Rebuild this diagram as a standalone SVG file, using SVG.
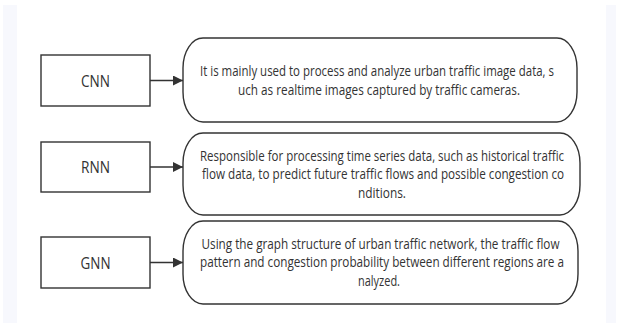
<svg xmlns="http://www.w3.org/2000/svg" width="619" height="325" viewBox="0 0 619 325">
  <defs>
    <marker id="arrow" viewBox="0 0 10 10" refX="10" refY="5" markerWidth="10" markerHeight="10" markerUnits="userSpaceOnUse" orient="auto">
      <path d="M0,0 L10,5 L0,10 Z" fill="#333"/>
    </marker>
  </defs>
  <style>
    .box { fill: #ffffff; stroke: #333333; stroke-width: 1.4; }
    .label { font-family: "Open Sans", "Noto Sans", sans-serif; font-size: 17px; fill: #333333; text-anchor: middle; }
    .desc { font-family: "Open Sans", "Noto Sans", sans-serif; font-size: 14.5px; fill: #333333; text-anchor: middle; }
    .conn { stroke: #333333; stroke-width: 1.6; fill: none; marker-end: url(#arrow); }
  </style>

  <!-- page background with pale side margins -->
  <rect x="0" y="0" width="619" height="325" fill="#ffffff"/>
  <rect x="3" y="5" width="613" height="318" fill="#f7f8fd"/>
  <rect x="17" y="0" width="589" height="325" fill="#ffffff"/>

  <!-- model nodes -->
  <g id="cnn">
    <rect class="box" x="41" y="55" width="109" height="51"/>
    <text class="label" x="95.5" y="86.5" textLength="29" lengthAdjust="spacingAndGlyphs">CNN</text>
  </g>
  <g id="rnn">
    <rect class="box" x="41" y="142" width="109" height="50"/>
    <text class="label" x="95.5" y="173" textLength="29" lengthAdjust="spacingAndGlyphs">RNN</text>
  </g>
  <g id="gnn">
    <rect class="box" x="41" y="237" width="109" height="51"/>
    <text class="label" x="95.5" y="268.5" textLength="30" lengthAdjust="spacingAndGlyphs">GNN</text>
  </g>

  <!-- description nodes -->
  <g id="cnn-desc">
    <rect class="box" x="183" y="38" width="394" height="84" rx="20" ry="30"/>
    <text class="desc" x="377" y="76" textLength="354" lengthAdjust="spacingAndGlyphs">It is mainly used to process and analyze urban traffic image data, s</text>
    <text class="desc" x="379" y="94.5" textLength="282" lengthAdjust="spacingAndGlyphs">uch as realtime images captured by traffic cameras.</text>
  </g>
  <g id="rnn-desc">
    <rect class="box" x="183" y="133" width="397" height="82" rx="20" ry="30"/>
    <text class="desc" x="382" y="160.5" textLength="364" lengthAdjust="spacingAndGlyphs">Responsible for processing time series data, such as historical traffic</text>
    <text class="desc" x="383" y="179" textLength="362" lengthAdjust="spacingAndGlyphs">flow data, to predict future traffic flows and possible congestion co</text>
    <text class="desc" x="382" y="197.5" textLength="48" lengthAdjust="spacingAndGlyphs">nditions.</text>
  </g>
  <g id="gnn-desc">
    <rect class="box" x="183" y="221" width="395" height="83" rx="20" ry="30"/>
    <text class="desc" x="380.5" y="248.5" textLength="358" lengthAdjust="spacingAndGlyphs">Using the graph structure of urban traffic network, the traffic flow</text>
    <text class="desc" x="382" y="267" textLength="364" lengthAdjust="spacingAndGlyphs">pattern and congestion probability between different regions are a</text>
    <text class="desc" x="379" y="285.5" textLength="42" lengthAdjust="spacingAndGlyphs">nalyzed.</text>
  </g>

  <!-- connectors -->
  <g id="connectors">
    <line class="conn" x1="150" y1="80.5" x2="183" y2="80.5"/>
    <line class="conn" x1="150" y1="167" x2="183" y2="167"/>
    <line class="conn" x1="150" y1="262.5" x2="183" y2="262.5"/>
  </g>
</svg>
